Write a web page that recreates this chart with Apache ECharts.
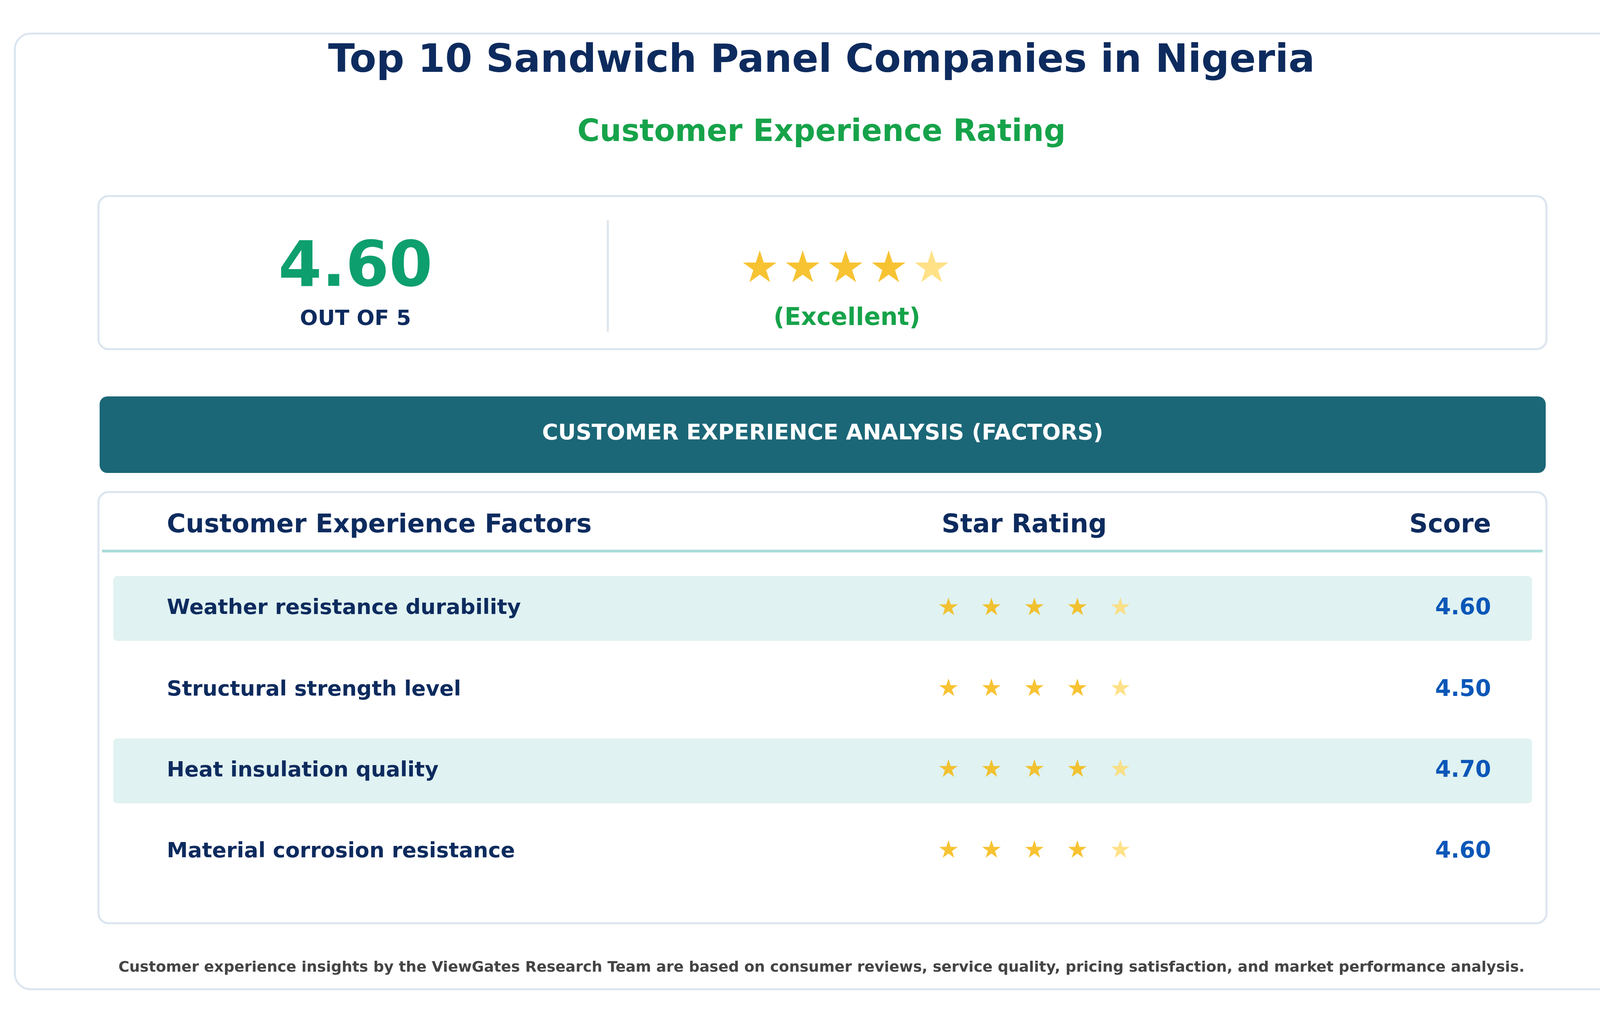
<!DOCTYPE html>
<html><head><meta charset="utf-8">
<script src="https://cdn.jsdelivr.net/npm/echarts@6/dist/echarts.min.js"></script>
<style>html,body{margin:0;padding:0;background:#fff}#c{width:4212px;height:2622px}</style>
</head><body><div id="c"></div>
<script>
const title = 'Top 10 Sandwich Panel Companies in Nigeria';
const subtitle = 'Customer Experience Rating';
const overallScore = 4.60;
const overallLabel = '(Excellent)';
const factors = ['Weather resistance durability','Structural strength level','Heat insulation quality','Material corrosion resistance'];
const scores = [4.60, 4.50, 4.70, 4.60];
const starSlots = [1,2,3,4,5];
const footer = 'Customer experience insights by the ViewGates Research Team are based on consumer reviews, service quality, pricing satisfaction, and market performance analysis.';

const F = 'DejaVu Sans';
const chart = echarts.init(document.getElementById('c'));
const FULL = '#f5b400', PART = '#ffd96a';
const rowY = [1558, 1767, 1974, 2181];

const g = [];
g.push({type:'rect',shape:{x:38,y:86,width:4133,height:2447,r:40},style:{fill:'#fff',stroke:'#dbe5ee',lineWidth:5},z:0});
g.push({type:'text',x:2103,y:158,style:{text:title,font:'bold 100px '+F,fill:'#0d2b5e',align:'center',verticalAlign:'middle'}});
g.push({type:'text',x:2103,y:341,style:{text:subtitle,font:'bold 78px '+F,fill:'#16a34a',align:'center',verticalAlign:'middle'}});
g.push({type:'rect',shape:{x:252,y:502,width:3707,height:392,r:26},style:{fill:'#fff',stroke:'#dbe5ee',lineWidth:5}});
g.push({type:'text',x:910,y:690,style:{text:overallScore.toFixed(2),font:'bold 160px '+F,fill:'#0e9f6e',align:'center',verticalAlign:'middle'}});
g.push({type:'text',x:910,y:818,style:{text:'OUT OF 5',font:'bold 54px '+F,fill:'#0d2b5e',align:'center',verticalAlign:'middle'}});
g.push({type:'line',shape:{x1:1556,y1:564,x2:1556,y2:849},style:{stroke:'#dbe5ee',lineWidth:5}});
g.push({type:'text',x:2168,y:816,style:{text:overallLabel,font:'bold 62px '+F,fill:'#16a34a',align:'center',verticalAlign:'middle'}});
g.push({type:'rect',shape:{x:255,y:1015,width:3702,height:196,r:20},style:{fill:'#1b6777'}});
g.push({type:'text',x:2106,y:1110,style:{text:'CUSTOMER EXPERIENCE ANALYSIS (FACTORS)',font:'bold 56px '+F,fill:'#fff',align:'center',verticalAlign:'middle'}});
g.push({type:'rect',shape:{x:252,y:1260,width:3707,height:1104,r:26},style:{fill:'#fff',stroke:'#dbe5ee',lineWidth:5},z:0});
g.push({type:'text',x:427,y:1346,style:{text:'Customer Experience Factors',font:'bold 66px '+F,fill:'#0d2b5e',align:'left',verticalAlign:'middle'}});
g.push({type:'text',x:2622,y:1346,style:{text:'Star Rating',font:'bold 66px '+F,fill:'#0d2b5e',align:'center',verticalAlign:'middle'}});
g.push({type:'text',x:3817,y:1346,style:{text:'Score',font:'bold 66px '+F,fill:'#0d2b5e',align:'right',verticalAlign:'middle'}});
g.push({type:'line',shape:{x1:261,y1:1411,x2:3949,y2:1411},style:{stroke:'#a8dcd9',lineWidth:7}});
factors.forEach((f,i)=>{
  if(i%2===0) g.push({type:'rect',shape:{x:290,y:rowY[i]-83,width:3632,height:166,r:10},style:{fill:'#e0f2f1'},z:1});
  g.push({type:'text',x:427,y:rowY[i],z:3,style:{text:f,font:'bold 54px '+F,fill:'#0d2b5e',align:'left',verticalAlign:'middle'}});
  g.push({type:'text',x:3817,y:rowY[i],z:3,style:{text:scores[i].toFixed(2),font:'bold 58px '+F,fill:'#0b57b8',align:'right',verticalAlign:'middle'}});
});
g.push({type:'text',x:2103,y:2478,style:{text:footer,font:'bold 38px '+F,fill:'#444',align:'center',verticalAlign:'middle'}});

function starData(score, y){
  return starSlots.map(s=>({value:[s,y],label:{color: s<=Math.floor(score)?FULL:PART}}));
}
const rowStars = [];
scores.forEach((sc,i)=>{ rowStars.push(...starData(sc,i)); });

chart.setOption({
  animation:false,
  graphic:{elements:g},
  grid:[
    {left:2373,width:550,top:1455,height:828},
    {left:1890,width:550,top:593,height:200}
  ],
  xAxis:[
    {gridIndex:0,type:'value',min:0.5,max:5.5,show:false},
    {gridIndex:1,type:'value',min:0.5,max:5.5,show:false}
  ],
  yAxis:[
    {gridIndex:0,type:'category',data:factors,inverse:true,show:false},
    {gridIndex:1,type:'category',data:['overall'],show:false}
  ],
  series:[
    {type:'scatter',xAxisIndex:0,yAxisIndex:0,symbolSize:1,itemStyle:{color:'rgba(0,0,0,0)'},z:5,
     data:rowStars,label:{show:true,position:'inside',formatter:'★',fontSize:62,fontFamily:F}},
    {type:'scatter',xAxisIndex:1,yAxisIndex:1,symbolSize:1,itemStyle:{color:'rgba(0,0,0,0)'},z:5,
     data:starData(overallScore,0),label:{show:true,position:'inside',formatter:'★',fontSize:112,fontFamily:F}}
  ]
});
</script></body></html>
